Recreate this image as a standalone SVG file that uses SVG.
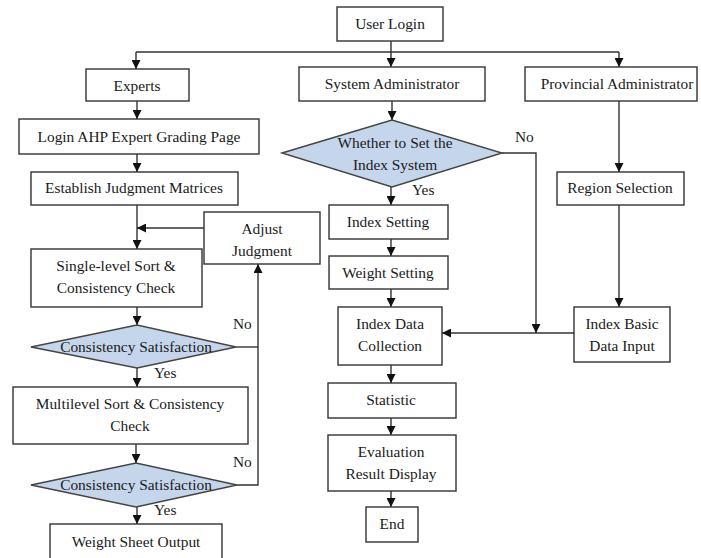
<svg xmlns="http://www.w3.org/2000/svg" width="701" height="558" viewBox="0 0 701 558">
<style>
.box{fill:#fff;stroke:#333;stroke-width:1.4}
.dia{fill:#c5d6ec;stroke:#444;stroke-width:1.4}
.t{font-family:"Liberation Serif","Times New Roman",serif;font-size:15.4px;fill:#1a1a1a;text-anchor:middle}
.l{font-family:"Liberation Serif","Times New Roman",serif;font-size:15.4px;fill:#1a1a1a}
.c{fill:none;stroke:#333;stroke-width:1.4}
</style>
<defs>
<marker id="a" viewBox="0 0 10 10" refX="10" refY="5" markerWidth="9" markerHeight="9" markerUnits="userSpaceOnUse" orient="auto">
<path d="M0,0 L10,5 L0,10 z" fill="#111"/>
</marker>
</defs>
<rect width="701" height="558" fill="#fff"/>
<g id="connectors">
<path class="c" d="M391,41 V52 M136,52 H619"/>
<path class="c" marker-end="url(#a)" d="M136,52 V69"/>
<path class="c" marker-end="url(#a)" d="M391,52 V67"/>
<path class="c" marker-end="url(#a)" d="M619,52 V67"/>
<path class="c" marker-end="url(#a)" d="M137,101 V119"/>
<path class="c" marker-end="url(#a)" d="M137,154 V172"/>
<path class="c" marker-end="url(#a)" d="M137,205 V249"/>
<path class="c" marker-end="url(#a)" d="M204,228 H137"/>
<path class="c" marker-end="url(#a)" d="M137,307 V325"/>
<path class="c" marker-end="url(#a)" d="M137,368 V387"/>
<path class="c" marker-end="url(#a)" d="M136,444 V463"/>
<path class="c" marker-end="url(#a)" d="M137,507 V524"/>
<path class="c" marker-end="url(#a)" d="M237,485 H258 V264"/>
<path class="c" d="M236,347 H258"/>
<path class="c" marker-end="url(#a)" d="M392,101 V120"/>
<path class="c" marker-end="url(#a)" d="M391,187 V205"/>
<path class="c" marker-end="url(#a)" d="M391,239 V256"/>
<path class="c" marker-end="url(#a)" d="M391,289 V307"/>
<path class="c" marker-end="url(#a)" d="M502,153 H536 V333"/>
<path class="c" marker-end="url(#a)" d="M619,101 V172"/>
<path class="c" marker-end="url(#a)" d="M619,205 V307"/>
<path class="c" marker-end="url(#a)" d="M574,333 H442"/>
<path class="c" marker-end="url(#a)" d="M391,365 V383"/>
<path class="c" marker-end="url(#a)" d="M391,418 V435"/>
<path class="c" marker-end="url(#a)" d="M391,491 V507"/>
</g>
<g id="labels">
<text class="l" x="515" y="142">No</text>
<text class="l" x="233" y="329">No</text>
<text class="l" x="233" y="467">No</text>
<text class="l" x="412" y="195">Yes</text>
<text class="l" x="154" y="378">Yes</text>
<text class="l" x="154" y="515">Yes</text>
</g>
<g id="user-login"><rect class="box" x="337" y="7" width="106" height="34"/><text class="t" x="390" y="29">User Login</text></g>
<g id="experts"><rect class="box" x="86" y="69" width="103" height="32"/><text class="t" x="137" y="91">Experts</text></g>
<g id="system-admin"><rect class="box" x="299" y="67" width="186" height="34"/><text class="t" x="392" y="89">System Administrator</text></g>
<g id="provincial-admin"><rect class="box" x="525" y="67" width="172" height="34"/><text class="t" x="617" y="89">Provincial Administrator</text></g>
<g id="login-ahp"><rect class="box" x="19" y="119" width="240" height="35"/><text class="t" x="139" y="142">Login AHP Expert Grading Page</text></g>
<g id="establish"><rect class="box" x="31" y="172" width="207" height="33"/><text class="t" x="134" y="193">Establish Judgment Matrices</text></g>
<g id="set-index-system"><polygon class="dia" points="282,153 392,120 502,153 392,187"/><text class="t" x="395" y="148">Whether to Set the</text><text class="t" x="395" y="170">Index System</text></g>
<g id="region-selection"><rect class="box" x="557" y="172" width="127" height="33"/><text class="t" x="620" y="193">Region Selection</text></g>
<g id="adjust-judgment"><rect class="box" x="204" y="212" width="116" height="52"/><text class="t" x="262" y="234">Adjust</text><text class="t" x="262" y="256">Judgment</text></g>
<g id="single-level"><rect class="box" x="31" y="249" width="171" height="58"/><text class="t" x="116" y="271">Single-level Sort &amp;</text><text class="t" x="116" y="293">Consistency Check</text></g>
<g id="consistency-1"><polygon class="dia" points="31,347 137,325 236,347 137,368"/><text class="t" x="136" y="352">Consistency Satisfaction</text></g>
<g id="multilevel"><rect class="box" x="13" y="387" width="235" height="57"/><text class="t" x="130" y="409">Multilevel Sort &amp; Consistency</text><text class="t" x="130" y="431">Check</text></g>
<g id="consistency-2"><polygon class="dia" points="31,485 136,463 237,485 136,507"/><text class="t" x="136" y="490">Consistency Satisfaction</text></g>
<g id="weight-sheet"><rect class="box" x="50" y="524" width="172" height="40"/><text class="t" x="136" y="547">Weight Sheet Output</text></g>
<g id="index-setting"><rect class="box" x="329" y="205" width="119" height="34"/><text class="t" x="388" y="227">Index Setting</text></g>
<g id="weight-setting"><rect class="box" x="329" y="256" width="119" height="33"/><text class="t" x="388" y="278">Weight Setting</text></g>
<g id="index-data-collection"><rect class="box" x="338" y="307" width="104" height="58"/><text class="t" x="390" y="329">Index Data</text><text class="t" x="390" y="351">Collection</text></g>
<g id="index-basic-data"><rect class="box" x="574" y="307" width="96" height="55"/><text class="t" x="622" y="329">Index Basic</text><text class="t" x="622" y="351">Data Input</text></g>
<g id="statistic"><rect class="box" x="328" y="383" width="128" height="35"/><text class="t" x="391" y="405">Statistic</text></g>
<g id="evaluation"><rect class="box" x="328" y="435" width="128" height="56"/><text class="t" x="391" y="457">Evaluation</text><text class="t" x="391" y="479">Result Display</text></g>
<g id="end"><rect class="box" x="366" y="507" width="52" height="35"/><text class="t" x="392" y="529">End</text></g>
</svg>
